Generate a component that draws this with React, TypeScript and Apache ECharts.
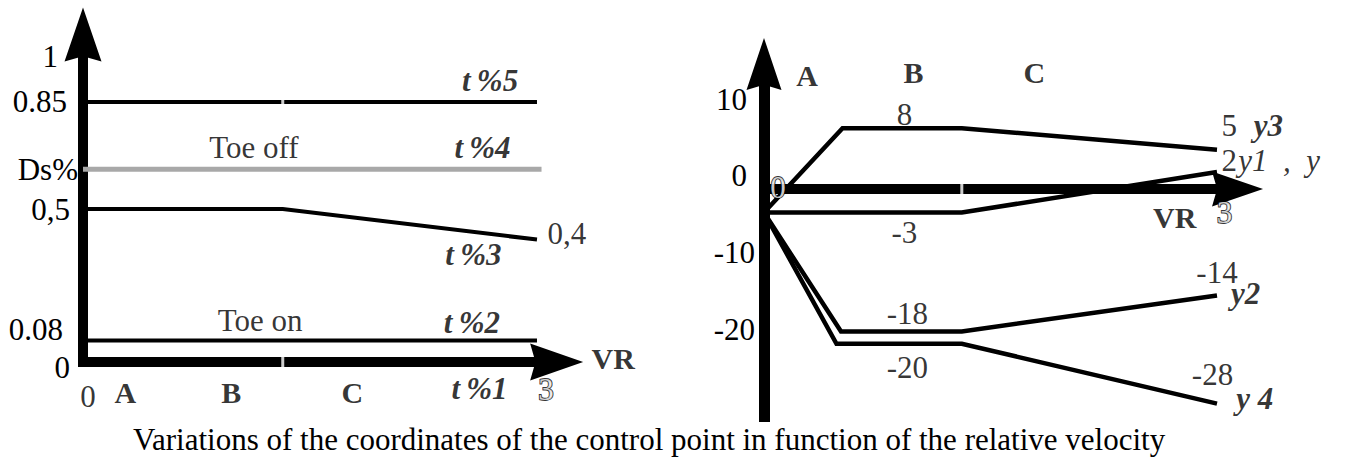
import React, { useEffect, useRef } from 'react';
import * as echarts from 'echarts';

const SERIF = '"Liberation Serif", "Times New Roman", Times, serif';

// ---------- Left panel: timing fractions vs relative velocity ----------
const leftKneeX = 1.32;
const tPct5 = [[0, 0.85], [3, 0.85]];
const tPct4Ds = [[0, 0.63], [3.03, 0.63]];
const tPct3 = [[0, 0.5], [1.32, 0.5], [3, 0.4]];
const tPct2 = [[0, 0.07], [3, 0.07]];
const leftYTicks = [1, 0.85, 0.63, 0.5, 0.07, 0];
const leftYTickLabels = ['1', '0.85', 'Ds%', '0,5', '0.08', '0'];

// [text, x, y, kind, align]
const leftNotes: [string, number, number, string, string][] = [
  ['t\u2009%5', 2.69, 0.92, 'bi', 'center'],
  ['t\u2009%4', 2.64, 0.70, 'bi', 'center'],
  ['Toe off', 1.13, 0.70, 'n', 'center'],
  ['t\u2009%3', 2.58, 0.35, 'bi', 'center'],
  ['0,4', 3.07, 0.42, 'n', 'left'],
  ['Toe on', 1.17, 0.137, 'n', 'center'],
  ['t\u2009%2', 2.57, 0.13, 'bi', 'center'],
  ['VR', 3.36, 0.013, 'b', 'left'],
  ['0', 0.033, -0.114, 'n', 'center'],
  ['A', 0.28, -0.10, 'b', 'center'],
  ['B', 0.98, -0.10, 'b', 'center'],
  ['C', 1.78, -0.10, 'b', 'center'],
  ['t\u2009%1', 2.62, -0.085, 'bi', 'center'],
  ['3', 3.06, -0.09, 'o', 'center'],
];

// ---------- Right panel: control point coordinates vs relative velocity ----------
const rightKneeX = 1.31;
const y3 = [[0, -4.8], [0.52, 6.2], [1.31, 6.2], [3, 3.4]];
const y1 = [[0, -4.8], [1.31, -4.8], [3, 0.5]];
const y2 = [[0, -4.8], [0.51, -20.3], [1.31, -20.3], [3, -15.6]];
const y4 = [[0, -4.8], [0.48, -21.9], [1.31, -21.9], [3, -29.7]];
const rightYTicks = [10, 0, -10, -20];
const rightXAxisLevel = -1.73;

const rightNotes: [string, number, number, string, string][] = [
  ['A', 0.285, 13.1, 'b', 'center'],
  ['B', 0.99, 13.4, 'b', 'center'],
  ['C', 1.79, 13.4, 'b', 'center'],
  ['8', 0.93, 8.05, 'n', 'center'],
  ['-3', 0.93, -7.35, 'n', 'center'],
  ['-18', 0.95, -17.9, 'n', 'center'],
  ['-20', 0.95, -25, 'n', 'center'],
  ['5', 3.03, 6.5, 'n', 'left'],
  ['y3', 3.34, 6.6, 'bi', 'center'],
  ['2', 3.03, 2.0, 'n', 'left'],
  ['y1\u2002,\u2002y', 3.14, 2.0, 'i', 'left'],
  ['VR', 2.72, -5.5, 'b', 'center'],
  ['3', 3.05, -4.75, 'o', 'center'],
  ['-14', 3.0, -12.6, 'n', 'center'],
  ['y2', 3.19, -15.3, 'bi', 'center'],
  ['-28', 2.97, -25.9, 'n', 'center'],
  ['y 4', 3.25, -29.1, 'bi', 'center'],
  ['0', 0.093, -1.5, 'o', 'center'],
];

const arrow = (w: number, h: number) =>
  `path://M${w / 2},0L${w},${h}L${w / 2},${h * 0.9}L0,${h}Z`;

function labelStyle(kind: string, align: string) {
  const base: any = {
    show: true,
    position: 'inside',
    align,
    verticalAlign: 'middle',
    fontFamily: SERIF,
    fontSize: 31,
    color: '#000',
    fontWeight: 'normal',
    fontStyle: 'normal',
  };
  if (kind === 'b') { base.fontWeight = 'bold'; base.fontSize = 30; }
  if (kind === 'bi') { base.fontWeight = 'bold'; base.fontStyle = 'italic'; }
  if (kind === 'i') { base.fontStyle = 'italic'; }
  if (kind === 'o') {
    base.color = '#fff';
    base.textBorderColor = '#000';
    base.textBorderWidth = 1.8;
  }
  return base;
}

function noteSeries(notes: [string, number, number, string, string][], idx: number) {
  return {
    type: 'scatter',
    xAxisIndex: idx,
    yAxisIndex: idx,
    clip: false,
    silent: true,
    z: 6,
    symbol: 'circle',
    symbolSize: 1,
    itemStyle: { color: 'rgba(0,0,0,0)' },
    emphasis: { disabled: true },
    data: notes.map((n) => ({
      value: [n[1], n[2]],
      label: { ...labelStyle(n[3], n[4]), formatter: n[0] },
    })),
  };
}

function lineSeries(data: number[][], idx: number, color: string, width: number, extra: any = {}) {
  return {
    type: 'line',
    xAxisIndex: idx,
    yAxisIndex: idx,
    data,
    symbol: 'none',
    silent: true,
    z: 3,
    lineStyle: { color, width, join: 'miter', cap: 'butt' },
    emphasis: { disabled: true },
    ...extra,
  };
}

const leftPad = [[0, 20, 0, 0], [0, 11, 0, 0], [0, 0, 0, 0], [0, 8, 0, 0], [0, 15, 22, 0], [10, 8, 0, 0]];
const rightPad = [[0, 8, 0, 0], [0, 8, 0, 0], [0, 0, 0, 0], [0, 0, 0, 0]];

function richFor(pads: number[][]) {
  const r: any = {};
  pads.forEach((p, i) => {
    r['p' + i] = { padding: p, fontFamily: SERIF, fontSize: 31, color: '#000' };
  });
  return r;
}

function tickFormatter(ticks: number[], labels: string[]) {
  return (v: number) => {
    let best = 0;
    ticks.forEach((t, i) => {
      if (Math.abs(t - v) < Math.abs(ticks[best] - v)) best = i;
    });
    return `{p${best}|${labels[best]}}`;
  };
}

const rightArrow = arrow(35, 51);

const option: any = {
  animation: false,
  backgroundColor: '#fff',
  title: {
    text: 'Variations of the coordinates of the control point in function of the relative velocity',
    left: 133,
    top: 424,
    padding: 0,
    textStyle: { fontFamily: SERIF, fontSize: 31, fontWeight: 'normal', color: '#000' },
  },
  grid: [
    { left: 83, top: 34.58, width: 473.66, height: 327.42, outerBoundsMode: 'none', containLabel: false },
    { left: 764, top: 64, width: 505.85, height: 358, outerBoundsMode: 'none', containLabel: false },
  ],
  xAxis: [
    {
      gridIndex: 0,
      type: 'value',
      min: 0,
      max: 3.13,
      axisLine: {
        show: true,
        onZero: true,
        symbol: ['none', arrow(37, 53)],
        symbolSize: [37, 53],
        lineStyle: { color: '#000', width: 10, cap: 'square' },
      },
      axisTick: { show: false },
      axisLabel: { show: false },
      splitLine: { show: false },
    },
    {
      gridIndex: 1,
      type: 'value',
      min: 0,
      max: 3.35,
      axisLine: { show: false },
      axisTick: { show: false },
      axisLabel: { show: false },
      splitLine: { show: false },
    },
  ],
  yAxis: [
    {
      gridIndex: 0,
      type: 'value',
      min: 0,
      max: 1.07,
      axisLine: {
        show: true,
        onZero: true,
        symbol: ['none', arrow(37, 54)],
        symbolSize: [37, 54],
        lineStyle: { color: '#000', width: 10, cap: 'square' },
      },
      axisTick: { show: false },
      splitLine: { show: false },
      axisLabel: {
        show: true,
        customValues: leftYTicks,
        margin: 5,
        color: '#000',
        fontFamily: SERIF,
        fontSize: 31,
        formatter: tickFormatter(leftYTicks, leftYTickLabels),
        rich: richFor(leftPad),
      },
    },
    {
      gridIndex: 1,
      type: 'value',
      min: -32.1,
      max: 14.57,
      axisLine: {
        show: true,
        onZero: true,
        symbol: ['none', arrow(35, 52)],
        symbolSize: [35, 52],
        lineStyle: { color: '#000', width: 11, cap: 'butt' },
      },
      axisTick: { show: false },
      splitLine: { show: false },
      axisLabel: {
        show: true,
        customValues: rightYTicks,
        margin: 9,
        color: '#000',
        fontFamily: SERIF,
        fontSize: 31,
        formatter: tickFormatter(rightYTicks, rightYTicks.map(String)),
        rich: richFor(rightPad),
      },
    },
  ],
  series: [
    // left panel
    lineSeries(tPct5, 0, '#000', 4),
    lineSeries(tPct4Ds, 0, '#a8a8a8', 5, { z: 4 }),
    lineSeries(tPct3, 0, '#000', 4),
    lineSeries(tPct2, 0, '#000', 4),
    {
      type: 'scatter',
      xAxisIndex: 0,
      yAxisIndex: 0,
      silent: true,
      clip: false,
      z: 5,
      symbol: 'rect',
      itemStyle: { color: '#fff' },
      emphasis: { disabled: true },
      data: [
        { value: [leftKneeX, 0.85], symbolSize: [3, 8] },
        { value: [leftKneeX, 0], symbolSize: [3, 13] },
      ],
    },
    noteSeries(leftNotes, 0),
    // right panel
    lineSeries(y3, 1, '#000', 4.5),
    lineSeries(y1, 1, '#000', 4.5, {
      markLine: {
        silent: true,
        symbol: ['none', rightArrow],
        symbolSize: 35,
        label: { show: false },
        emphasis: { disabled: true },
        lineStyle: { color: '#000', width: 10, type: 'solid', cap: 'butt', opacity: 1 },
        data: [[
          { coord: [0, rightXAxisLevel], symbol: 'none' },
          { coord: [3.136, rightXAxisLevel], symbol: rightArrow, symbolSize: [35, 51], itemStyle: { color: '#000' } },
        ]],
      },
    }),
    lineSeries(y2, 1, '#000', 4.5),
    lineSeries(y4, 1, '#000', 4.5),
    {
      type: 'scatter',
      xAxisIndex: 1,
      yAxisIndex: 1,
      silent: true,
      clip: false,
      z: 5,
      symbol: 'rect',
      itemStyle: { color: '#fff' },
      emphasis: { disabled: true },
      data: [{ value: [rightKneeX, rightXAxisLevel], symbolSize: [3, 13] }],
    },
    noteSeries(rightNotes, 1),
  ],
};

export default function App() {
  const ref = useRef<HTMLDivElement>(null);
  useEffect(() => {
    if (!ref.current) return;
    const chart = echarts.init(ref.current, null, { renderer: 'svg' });
    chart.setOption(option);
    return () => chart.dispose();
  }, []);
  return (
    <div
      ref={ref}
      style={{ position: 'fixed', left: 0, top: 0, width: 1346, height: 459, background: '#fff' }}
    />
  );
}
